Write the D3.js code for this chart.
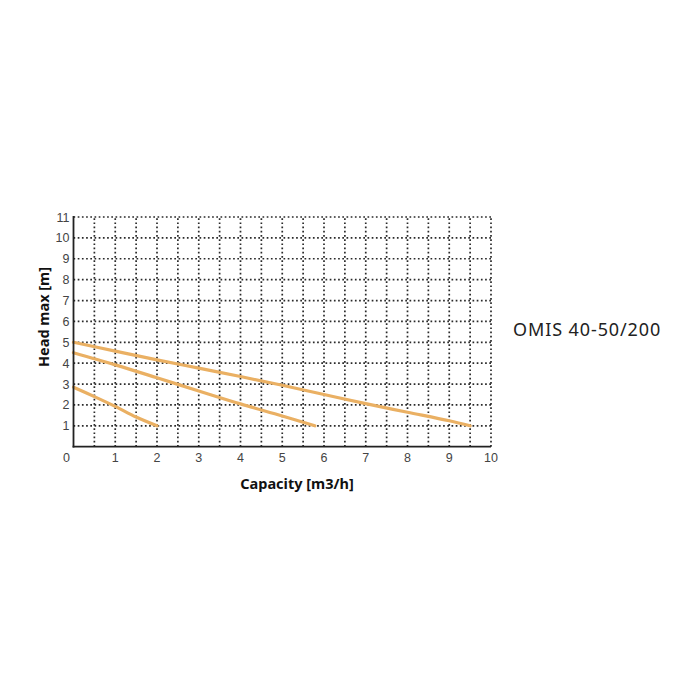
<!DOCTYPE html>
<html><head><meta charset="utf-8">
<script src="https://cdn.jsdelivr.net/npm/d3@7"></script>
<style>body{margin:0;background:#fff}</style>
</head><body>
<script>
const xTicks = [0,1,2,3,4,5,6,7,8,9,10];
const yTicks = [1,2,3,4,5,6,7,8,9,10,11];
const curveA = [[0,5.0],[1,4.58],[2,4.16],[3,3.76],[4,3.36],[5,2.94],[6,2.5],[7,2.06],[8,1.65],[9,1.24],[9.5,1.0]];
const curveB = [[0,4.5],[1,3.92],[2,3.3],[3,2.67],[4,2.05],[5,1.47],[5.78,1.0]];
const curveC = [[0,2.85],[0.5,2.4],[1,1.93],[1.5,1.42],[2,1.0]];
const curves = [curveA, curveB, curveC];
const xTitle = "Capacity [m3/h]";
const yTitle = "Head max [m]";
const model = "OMIS 40-50/200";

const svg = d3.select("body").append("svg").attr("width",700).attr("height",700);
const x = d3.scaleLinear().domain([0,10]).range([73.5,491]);
const y = d3.scaleLinear().domain([0,11]).range([446.7,217]);

const grid = svg.append("g").attr("stroke","#2a2a2a").attr("stroke-width",1.7).attr("stroke-dasharray","1.7,2.5");
d3.range(0.5,10.01,0.5).forEach(v=>{
  grid.append("line").attr("x1",x(v)).attr("x2",x(v)).attr("y1",y(0)).attr("y2",y(11));
});
yTicks.forEach(v=>{
  grid.append("line").attr("x1",x(0)).attr("x2",x(10)).attr("y1",y(v)).attr("y2",y(v));
});

const line = d3.line().x(d=>x(d[0])).y(d=>y(d[1])).curve(d3.curveCatmullRom);
svg.append("g").selectAll("path").data(curves).join("path")
  .attr("d",line).attr("fill","none").attr("stroke","#eab063").attr("stroke-width",3.2).attr("stroke-linecap","round");

svg.append("line").attr("x1",x(0)).attr("x2",x(0)).attr("y1",y(0)+0.8).attr("y2",y(11)-1).attr("stroke","#222").attr("stroke-width",1.8);
svg.append("line").attr("x1",x(0)-0.9).attr("x2",x(10)).attr("y1",y(0)).attr("y2",y(0)).attr("stroke","#222").attr("stroke-width",1.8);

const tf = "Liberation Sans, Arial, sans-serif";
svg.append("g").selectAll("text").data(yTicks).join("text")
  .attr("x",x(0)-4).attr("y",d=>y(d)).attr("dy","0.36em").attr("text-anchor","end")
  .attr("font-family",tf).attr("font-size",12.5).attr("fill","#444").text(d=>d);
svg.append("g").selectAll("text").data(xTicks).join("text")
  .attr("x",d=>d===0?x(d)-7:x(d)).attr("y",y(0)+15).attr("text-anchor","middle")
  .attr("font-family",tf).attr("font-size",12.5).attr("fill","#444").text(d=>d);

const tt = "'Noto Sans', Lato, sans-serif";
svg.append("text").attr("x",297).attr("y",489).attr("text-anchor","middle")
  .attr("font-family",tt).attr("font-weight","bold").attr("font-size",14.5).attr("fill","#111").text(xTitle);
svg.append("text").attr("transform","translate(49,317) rotate(-90)").attr("text-anchor","middle")
  .attr("font-family",tt).attr("font-weight","bold").attr("font-size",14.5).attr("fill","#111").text(yTitle);
svg.append("text").attr("x",513).attr("y",336).attr("text-anchor","start")
  .attr("font-family",tt).attr("font-size",18).attr("letter-spacing",0.9).attr("fill","#222").text(model);
</script>
</body></html>
